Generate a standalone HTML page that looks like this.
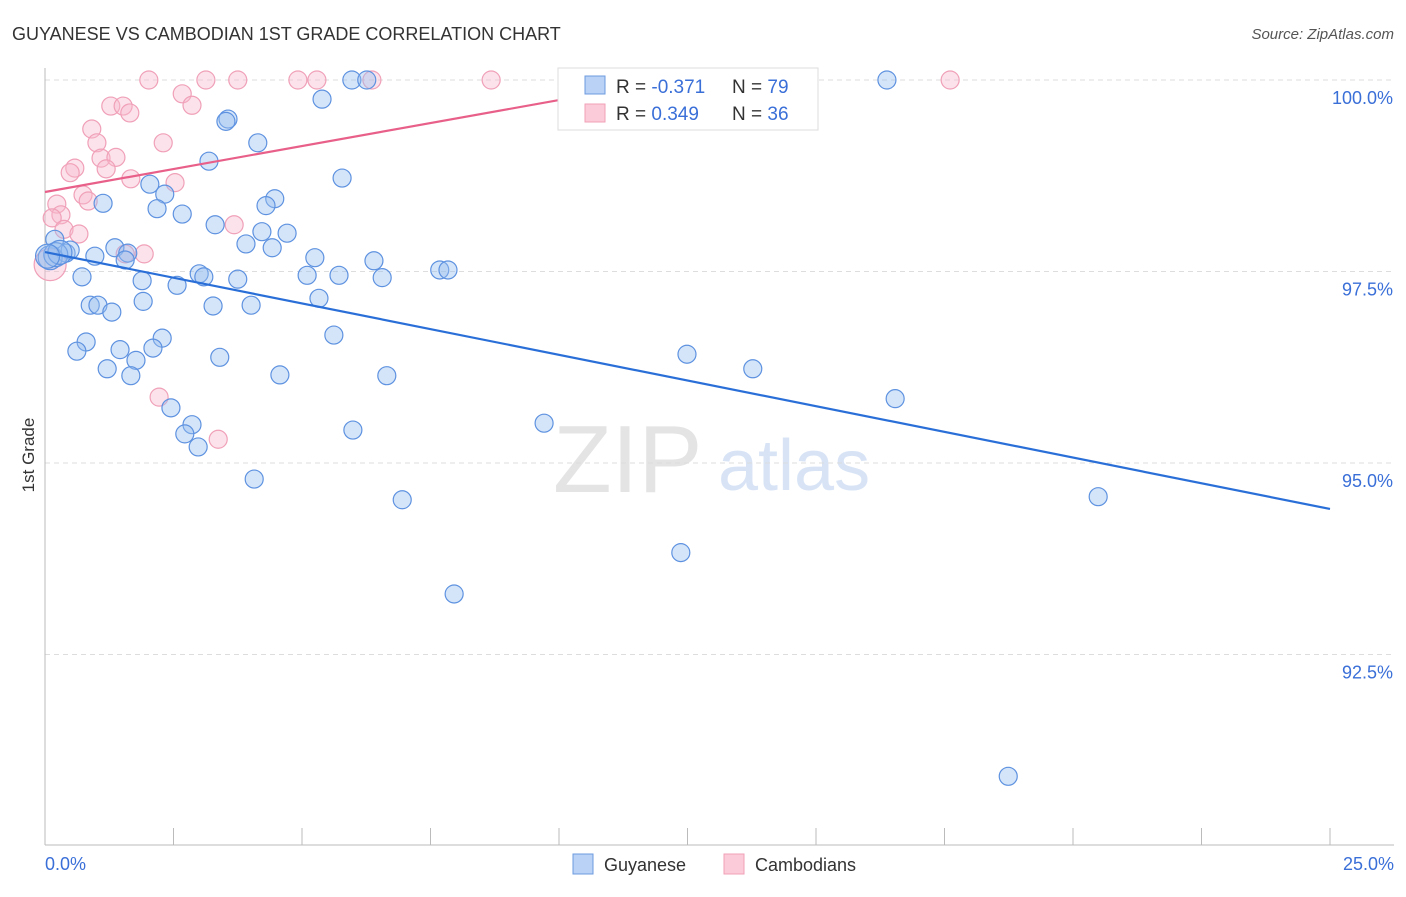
<!DOCTYPE html>
<html><head><meta charset="utf-8"><style>
body{margin:0;background:#fff;font-family:"Liberation Sans",sans-serif;}
svg text{font-family:"Liberation Sans",sans-serif;}
</style></head><body>
<svg id="chart" width="1406" height="892" xmlns="http://www.w3.org/2000/svg">
<text x="12" y="40" font-size="18" fill="#333">GUYANESE VS CAMBODIAN 1ST GRADE CORRELATION CHART</text>
<text x="1394" y="39" font-size="15" fill="#555" text-anchor="end" font-style="italic">Source: ZipAtlas.com</text>
<text transform="translate(34,455) rotate(-90)" font-size="17" fill="#333" text-anchor="middle">1st Grade</text>
<g>
<text x="553" y="492" font-size="96" fill="#e4e4e4" font-family="Liberation Serif,serif">ZIP</text>
<text x="718" y="490" font-size="72" fill="#d8e4f6">atlas</text>
</g>
<g id="grid"></g><g id="axes"></g><g id="pts"></g><g id="lines"></g>
<g>
<rect x="558" y="68" width="260" height="62" fill="#fff" stroke="#ddd"/>
<rect x="585" y="76" width="20" height="18" fill="#b9d2f5" stroke="#6d9be0"/>
<rect x="585" y="104" width="20" height="18" fill="#fbcbd9" stroke="#f0a0b8"/>
<text x="616" y="93" font-size="19" fill="#333">R = <tspan fill="#3a6fd8">-0.371</tspan></text>
<text x="732" y="93" font-size="19" fill="#333">N = <tspan fill="#3a6fd8">79</tspan></text>
<text x="616" y="120" font-size="19" fill="#333">R = <tspan fill="#3a6fd8"> 0.349</tspan></text>
<text x="732" y="120" font-size="19" fill="#333">N = <tspan fill="#3a6fd8">36</tspan></text>
</g>
<g>
<rect x="573" y="854" width="20" height="20" fill="#b9d2f5" stroke="#6d9be0"/>
<text x="604" y="871" font-size="18" fill="#333">Guyanese</text>
<rect x="724" y="854" width="20" height="20" fill="#fbcbd9" stroke="#f0a0b8"/>
<text x="755" y="871" font-size="18" fill="#333">Cambodians</text>
</g>
</svg>
<script>
const blueX=[5.97,6.26,16.38,5.39,3.56,3.52,4.14,3.19,5.78,2.04,2.33,1.13,4.47,4.30,2.18,2.67,3.31,4.22,4.71,0.19,3.91,4.42,1.36,1.61,0.41,0.49,0.97,1.56,5.25,6.40,7.68,7.84,0.72,3.00,3.09,5.10,5.72,6.56,1.89,2.57,3.75,5.33,1.91,0.88,1.03,3.27,4.01,1.30,0.80,5.62,2.28,0.62,2.10,1.46,3.40,1.77,12.49,1.21,1.67,4.57,6.65,13.77,2.45,16.54,2.86,2.72,9.71,5.99,2.98,4.07,6.95,20.49,12.37,7.96,18.74,0.10,0.21,0.29,0.05];
const blueY=[100,100,100,99.75,99.49,99.46,99.18,98.94,98.72,98.64,98.51,98.39,98.45,98.36,98.32,98.25,98.11,98.02,98.00,97.92,97.86,97.81,97.81,97.74,97.74,97.78,97.70,97.65,97.68,97.64,97.52,97.52,97.43,97.47,97.43,97.45,97.45,97.42,97.38,97.32,97.40,97.15,97.11,97.06,97.06,97.05,97.06,96.97,96.58,96.67,96.63,96.46,96.50,96.48,96.38,96.34,96.42,96.23,96.14,96.15,96.14,96.23,95.72,95.84,95.50,95.38,95.52,95.43,95.21,94.79,94.52,94.56,93.83,93.29,90.91,97.68,97.72,97.75,97.70];
const pinkX=[2.02,3.13,3.75,4.92,5.29,6.36,8.68,17.61,2.67,2.86,1.28,1.52,1.65,0.91,1.01,2.30,1.09,1.38,0.58,0.49,1.19,1.67,2.53,0.74,0.84,0.23,3.68,0.31,0.14,0.37,0.66,1.56,1.93,2.22,3.37,0.10];
const pinkY=[100,100,100,100,100,100,100,100,99.82,99.67,99.66,99.66,99.57,99.36,99.18,99.18,98.98,98.99,98.85,98.79,98.84,98.71,98.66,98.50,98.42,98.38,98.11,98.24,98.20,98.05,97.99,97.73,97.73,95.86,95.31,97.59];
const yTicks=[100,97.5,95,92.5];
const yTickLabels=["100.0%","97.5%","95.0%","92.5%"];
const xTickLabels=["0.0%","25.0%"];
const blueFit=[97.754,94.40];
const pinkFit=[98.538,100.02,12.35];
const X0=45,X1=1330;
const xs=v=>X0+v/25*(X1-X0);
const ys=v=>80+(100-v)/2.5*191.5;
const NS="http://www.w3.org/2000/svg";
function mk(tag,parent,attrs){const e=document.createElementNS(NS,tag);for(const k in attrs)e.setAttribute(k,attrs[k]);document.getElementById(parent).appendChild(e);return e;}
yTicks.forEach((t,i)=>{
 const l=mk('line','grid',{x1:X0,x2:1394,y1:ys(t),y2:ys(t),stroke:'#ddd','stroke-dasharray':'5,4'});
 
 
 const tx=mk('text','grid',{x:1393,y:ys(t)+24,'font-size':18,fill:'#3a6fd8','text-anchor':'end'});
 tx.textContent=yTickLabels[i];
 
 
});
const ax=mk('line','axes',{x1:X0,x2:X0,y1:68,y2:845,stroke:'#bbb'});


const bx=mk('line','axes',{x1:X0,x2:1394,y1:845,y2:845,stroke:'#bbb'});


for(let i=0;i<=10;i++){const t=mk('line','axes',{x1:xs(i*2.5),x2:xs(i*2.5),y1:828,y2:845,stroke:'#bbb'});
 
 }
[[0,'start',45],[25,'end',1394]].forEach((d,i)=>{const t=mk('text','axes',{x:d[2],y:870,'font-size':18,fill:'#3a6fd8','text-anchor':d[1]});t.textContent=xTickLabels[i];
 
 });
pinkX.forEach((x,i)=>{const c=mk('circle','pts',{cx:xs(x),cy:ys(pinkY[i]),r:i==35?16:9,fill:'rgba(248,185,205,0.4)',stroke:'#f0a0b8','stroke-width':1.2});
 
 });
blueX.forEach((x,i)=>{const c=mk('circle','pts',{cx:xs(x),cy:ys(blueY[i]),r:i>=75?12:9,fill:'rgba(150,190,240,0.4)',stroke:'#5e92e0','stroke-width':1.2});
 
 });
const bl=mk('line','lines',{x1:xs(0),y1:ys(blueFit[0]),x2:xs(25),y2:ys(blueFit[1]),stroke:'#2a6fd8','stroke-width':2.2});


const pl=mk('line','lines',{x1:xs(0),y1:ys(pinkFit[0]),x2:xs(pinkFit[2]),y2:ys(pinkFit[1]),stroke:'#e8608a','stroke-width':2.2});


</script>
</body></html>
